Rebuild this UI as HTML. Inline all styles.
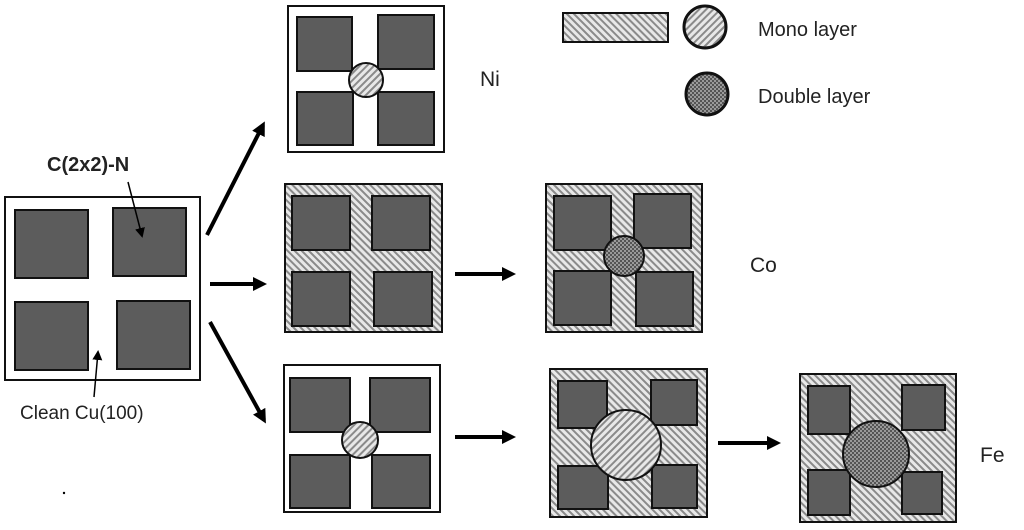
<!DOCTYPE html>
<html><head><style>
html,body{margin:0;padding:0;background:#fff;}
svg{display:block;}
text{font-family:"Liberation Sans",Arial,sans-serif;fill:#222;}
</style></head><body>
<svg width="1024" height="530" viewBox="0 0 1024 530" xmlns="http://www.w3.org/2000/svg">
<defs>
<pattern id="h" width="5" height="5" patternUnits="userSpaceOnUse" patternTransform="rotate(-45)">
<rect width="5" height="5" fill="#e8e8e8"/><rect width="2" height="5" fill="#8a8a8a"/>
</pattern>
<pattern id="hc" width="5" height="5" patternUnits="userSpaceOnUse" patternTransform="rotate(45)">
<rect width="5" height="5" fill="#e8e8e8"/><rect width="2" height="5" fill="#8a8a8a"/>
</pattern>
<pattern id="d" width="4" height="4" patternUnits="userSpaceOnUse">
<rect width="4" height="4" fill="#9a9a9a"/><rect width="2" height="2" fill="#555"/><rect x="2" y="2" width="2" height="2" fill="#555"/>
</pattern>
<marker id="a" markerWidth="14" markerHeight="14" refX="10" refY="7" orient="auto" markerUnits="userSpaceOnUse">
<path d="M0,0 L14,7 L0,14 Z" fill="#000"/></marker>
<marker id="s" markerWidth="10" markerHeight="10" refX="8" refY="5" orient="auto" markerUnits="userSpaceOnUse">
<path d="M0,0 L10,5 L0,10 Z" fill="#000"/></marker>
</defs>
<g stroke="#111" stroke-width="2">
<rect x="5" y="197" width="195" height="183" fill="#fff"/>
<g fill="#5c5c5c">
<rect x="15" y="210" width="73" height="68"/><rect x="113" y="208" width="73" height="68"/>
<rect x="15" y="302" width="73" height="68"/><rect x="117" y="301" width="73" height="68"/>
</g>
<rect x="288" y="6" width="156" height="146" fill="#fff"/>
<g fill="#5c5c5c">
<rect x="297" y="17" width="55" height="54"/><rect x="378" y="15" width="56" height="54"/>
<rect x="297" y="92" width="56" height="53"/><rect x="378" y="92" width="56" height="53"/>
</g>
<circle cx="366" cy="80" r="17" fill="url(#hc)"/>
<rect x="285" y="184" width="157" height="148" fill="url(#h)"/>
<g fill="#5c5c5c">
<rect x="292" y="196" width="58" height="54"/><rect x="372" y="196" width="58" height="54"/>
<rect x="292" y="272" width="58" height="54"/><rect x="374" y="272" width="58" height="54"/>
</g>
<rect x="546" y="184" width="156" height="148" fill="url(#h)"/>
<g fill="#5c5c5c">
<rect x="554" y="196" width="57" height="54"/><rect x="634" y="194" width="57" height="54"/>
<rect x="554" y="271" width="57" height="54"/><rect x="636" y="272" width="57" height="54"/>
</g>
<circle cx="624" cy="256" r="20" fill="url(#d)"/>
<rect x="284" y="365" width="156" height="147" fill="#fff"/>
<g fill="#5c5c5c">
<rect x="290" y="378" width="60" height="54"/><rect x="370" y="378" width="60" height="54"/>
<rect x="290" y="455" width="60" height="53"/><rect x="372" y="455" width="58" height="53"/>
</g>
<circle cx="360" cy="440" r="18" fill="url(#hc)"/>
<rect x="550" y="369" width="157" height="148" fill="url(#h)"/>
<g fill="#5c5c5c">
<rect x="558" y="381" width="49" height="47"/><rect x="651" y="380" width="46" height="45"/>
<rect x="558" y="466" width="50" height="43"/><rect x="652" y="465" width="45" height="43"/>
</g>
<circle cx="626" cy="445" r="35" fill="url(#hc)"/>
<rect x="800" y="374" width="156" height="148" fill="url(#h)"/>
<g fill="#5c5c5c">
<rect x="808" y="386" width="42" height="48"/><rect x="902" y="385" width="43" height="45"/>
<rect x="808" y="470" width="42" height="45"/><rect x="902" y="472" width="40" height="42"/>
</g>
<circle cx="876" cy="454" r="33" fill="url(#d)"/>
<rect x="563" y="13" width="105" height="29" fill="url(#h)"/>
<circle cx="705" cy="27" r="21" fill="url(#hc)" stroke-width="3"/>
<circle cx="707" cy="94" r="21" fill="url(#d)" stroke-width="3"/>
</g>
<g stroke="#000" stroke-width="4" fill="none">
<line x1="207" y1="235" x2="263" y2="125" marker-end="url(#a)"/>
<line x1="210" y1="284" x2="263" y2="284" marker-end="url(#a)"/>
<line x1="210" y1="322" x2="264" y2="420" marker-end="url(#a)"/>
<line x1="455" y1="274" x2="512" y2="274" marker-end="url(#a)"/>
<line x1="455" y1="437" x2="512" y2="437" marker-end="url(#a)"/>
<line x1="718" y1="443" x2="777" y2="443" marker-end="url(#a)"/>
</g>
<g stroke="#000" stroke-width="1.5">
<line x1="128" y1="182" x2="142" y2="236" marker-end="url(#s)"/>
<line x1="94" y1="397" x2="98" y2="352" marker-end="url(#s)"/>
</g>
<text x="47" y="171" font-size="20" font-weight="bold">C(2x2)-N</text>
<text x="20" y="419" font-size="19">Clean Cu(100)</text>
<circle cx="64" cy="493" r="1.2" fill="#000"/>
<text x="480" y="86" font-size="21">Ni</text>
<text x="750" y="272" font-size="21">Co</text>
<text x="980" y="462" font-size="21">Fe</text>
<text x="758" y="36" font-size="20">Mono layer</text>
<text x="758" y="103" font-size="20">Double layer</text>
</svg>
</body></html>
